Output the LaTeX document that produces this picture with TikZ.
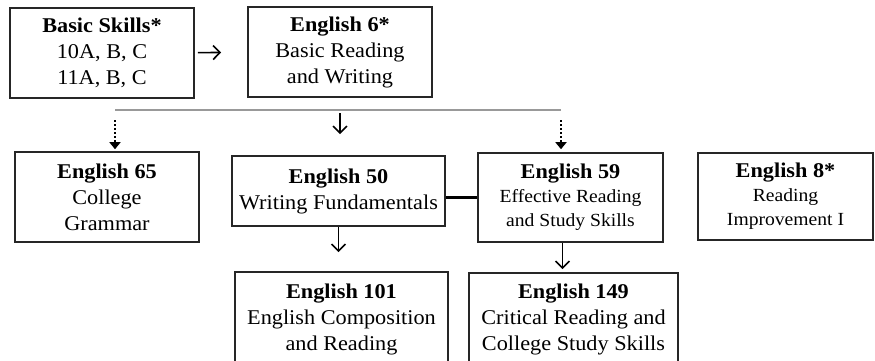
\documentclass[tikz,border=0pt]{standalone}
\usepackage{fontspec}
\setmainfont{Liberation Serif}[FakeStretch=1.06]
\usetikzlibrary{arrows.meta}

\begin{document}
\begin{tikzpicture}[x=1pt, y=-1pt,
	course/.style={shape=rectangle, draw=black!85, line width=1.6pt, align=center, inner sep=0pt, font=\fontsize{21}{26}\selectfont},
	smallbody/.style={font=\fontsize{18.5}{24}\selectfont},
	arr/.style={line width=1.6pt, -{Straight Barb[length=7pt, width=14pt, line width=1.6pt]}},
	dotarr/.style={line width=2.2pt, dash pattern={on 2pt off 2pt}, -{Triangle[length=7pt, width=11pt]}},
	link/.style={line width=3pt},
	bar/.style={draw=black!40, line width=1.4pt}]
	\useasboundingbox (0,0) rectangle (875,360);
	\clip (0,0) rectangle (875,360);
	% Course boxes:
	\node[course, minimum width=184pt, minimum height=90pt] (bs) at (102,53) {\textbf{Basic Skills*}\\10A, B, C\\11A, B, C};
	\node[course, minimum width=184pt, minimum height=90pt] (e6) at (340,52) {\textbf{English 6*}\\Basic Reading\\and Writing};
	\node[course, minimum width=184pt, minimum height=90pt] (e65) at (107,197) {\textbf{English 65}\\College\\Grammar};
	\node[course, minimum width=213pt, minimum height=70pt] (e50) at (338.5,191) {\textbf{English 50}\\Writing Fundamentals};
	\node[course, smallbody, minimum width=185pt, minimum height=89pt] (e59) at (570.5,197.5) {{\fontsize{21}{24}\selectfont\textbf{English 59}}\\Effective Reading\\and Study Skills};
	\node[course, smallbody, minimum width=175pt, minimum height=87pt] (e8) at (785.5,196.5) {{\fontsize{21}{24}\selectfont\textbf{English 8*}}\\Reading\\Improvement I};
	\node[course, minimum width=213pt, minimum height=94pt] (e101) at (341.5,319) {\textbf{English 101}\\English Composition\\and Reading};
	\node[course, minimum width=209pt, minimum height=93pt] (e149) at (573.5,319.5) {\textbf{English 149}\\Critical Reading and\\College Study Skills};
	% Bar and arrows:
	\coordinate (b1) at (115,110);
	\coordinate (b2) at (561,110);
	\draw[arr, shorten <=3pt, shorten >=26pt] (bs) -- (e6);
	\draw[bar] (b1) -- (b2);
	\draw[dotarr, shorten <=10pt, shorten >=2pt] (b1) -- (b1 |- e65.north);
	\draw[dotarr, shorten <=10pt, shorten >=3pt] (b2) -- (b2 |- e59.north);
	\draw[arr, shorten <=3pt, shorten >=21pt] (e6.south |- b1) -- (e6.south |- e50.north);
	\draw[link] (e59.west) -- (e59.west -| e50.east);
	\draw[arr, shorten >=19pt] (e50.south) -- (e50.south |- e101.north);
	\draw[arr, shorten >=3pt] ([xshift=-8pt]e59.south) -- ([xshift=-8pt]e59.south |- e149.north);
\end{tikzpicture}
\end{document}
